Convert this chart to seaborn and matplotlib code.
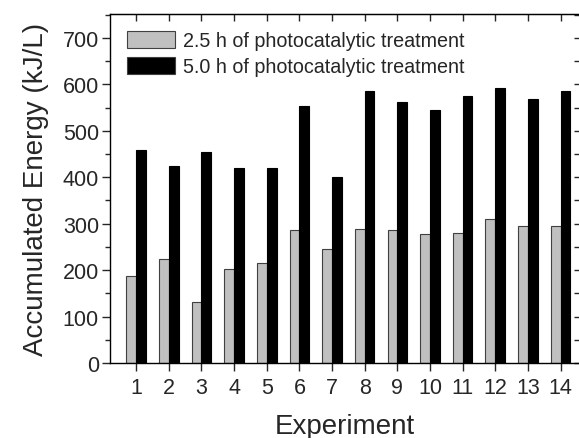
import numpy as np
import pandas as pd
import matplotlib
matplotlib.use('Agg')
import matplotlib.pyplot as plt
from matplotlib.ticker import MultipleLocator
import seaborn as sns

experiments = [str(i) for i in range(1, 15)]
energy_25h = [188, 223, 131, 202, 215, 287, 245, 289, 287, 277, 281, 310, 294, 296]
energy_50h = [459, 424, 454, 419, 420, 553, 401, 587, 562, 545, 575, 592, 569, 586]
series_names = ["2.5 h of photocatalytic treatment", "5.0 h of photocatalytic treatment"]

df = pd.DataFrame({
    "Experiment": experiments * 2,
    "Energy": energy_25h + energy_50h,
    "Treatment": [series_names[0]] * 14 + [series_names[1]] * 14,
})

sns.set_style("ticks")
plt.rcParams['font.family'] = ['Liberation Sans', 'DejaVu Sans']

fig = plt.figure(figsize=(5.79, 4.39), dpi=100)
ax = fig.add_axes([0.190, 0.171, 0.812, 0.795])

sns.barplot(data=df, x="Experiment", y="Energy", hue="Treatment",
            palette=["#c0c0c0", "black"], width=0.6, gap=0,
            edgecolor="#404040", linewidth=0.8, saturation=1, ax=ax)
for bar in ax.containers[1]:
    bar.set_edgecolor("black")

ax.set_xlim(-0.8, 13.6)
ax.set_ylim(0, 752)
ax.yaxis.set_major_locator(MultipleLocator(100))
ax.yaxis.set_minor_locator(MultipleLocator(50))
ax.tick_params(axis='y', which='major', direction='out', length=6, width=1,
               labelsize=15.5, pad=2)
ax.tick_params(axis='y', which='minor', direction='out', length=3.5, width=1)
ax.tick_params(axis='x', which='major', direction='out', length=6, width=1,
               labelsize=15.5, pad=4)
# mirrored ticks on the top and right point inwards
ax2 = ax.secondary_xaxis('top')
ax2.set_xticks(range(14))
ax2.tick_params(direction='in', length=5, width=1, labelsize=0, labeltop=False)
ax3 = ax.secondary_yaxis('right')
ax3.yaxis.set_major_locator(MultipleLocator(100))
ax3.yaxis.set_minor_locator(MultipleLocator(50))
ax3.tick_params(which='both', direction='in', length=4, width=1, labelright=False)

for side in ["top", "right", "left", "bottom"]:
    ax.spines[side].set_visible(True)
    ax.spines[side].set_linewidth(1)
    ax.spines[side].set_color("black")

ax.set_xlabel("Experiment", fontsize=20, labelpad=11)
ax.set_ylabel("Accumulated Energy (kJ/L)", fontsize=20, labelpad=10)

leg = ax.legend(loc="upper left", bbox_to_anchor=(0.01, 0.985), frameon=False,
                fontsize=14.2, handlelength=2.45, handleheight=0.95,
                handletextpad=0.4, labelspacing=0.35, borderaxespad=0.2)

plt.savefig("out.png", dpi=100)
